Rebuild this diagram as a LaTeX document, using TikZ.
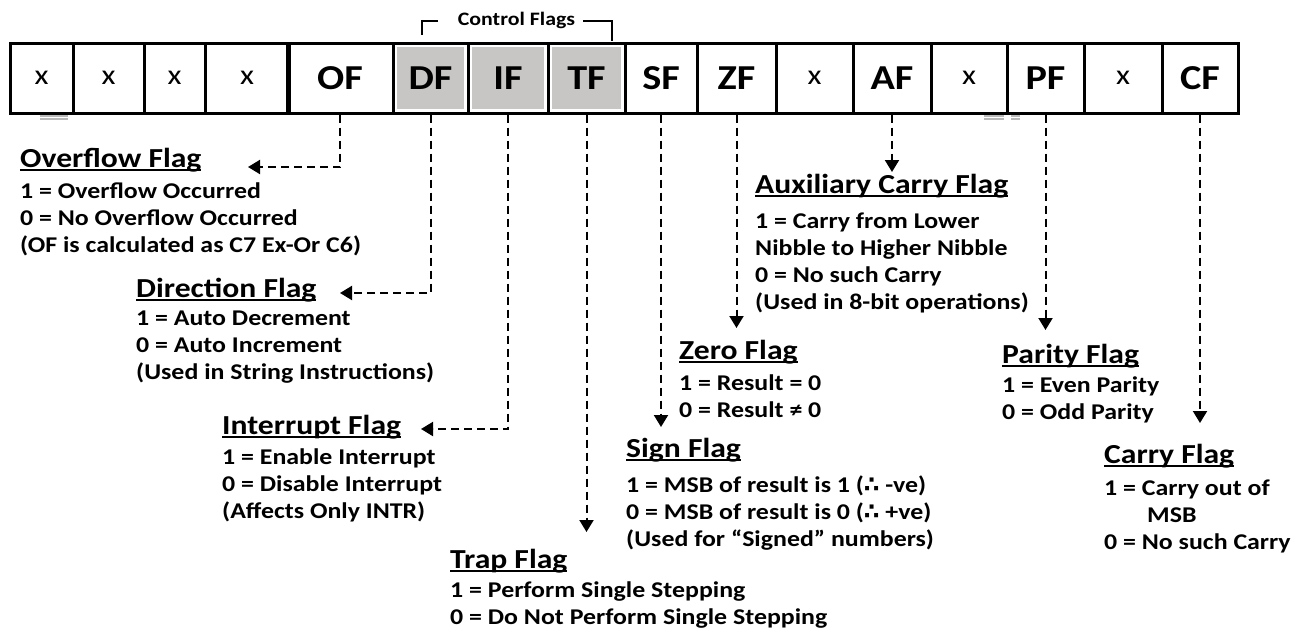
\documentclass[tikz,border=0pt]{standalone}
\usepackage{fontspec}
\setmainfont[FakeStretch=1.15]{Carlito}
\newfontfamily\symfont{DejaVu Sans}
\usetikzlibrary{arrows.meta}
\definecolor{cellgray}{HTML}{C8C6C4}
\newsavebox{\flagbox}
\newcommand{\flagul}[1]{\sbox{\flagbox}{#1}\rlap{\rule[-4pt]{\wd\flagbox}{2pt}}\usebox{\flagbox}}
\begin{document}
\begin{tikzpicture}[x=1pt, y=-1pt,
    cell/.style={draw, line width=3pt, minimum height=70, inner sep=0},
    bitx/.style={cell, font=\fontsize{28}{30}\selectfont},
    bitname/.style={cell, font=\bfseries\fontsize{35}{38}\selectfont},
    ctrlcell/.style={bitname, path picture={\fill[cellgray] ([shift={(4pt,-4pt)}]path picture bounding box.north west) rectangle ([shift={(-4pt,4pt)}]path picture bounding box.south east);}},
    head/.style={anchor=base west, inner sep=0, font=\bfseries\fontsize{27.5}{30}\selectfont},
    body/.style={anchor=north west, inner sep=0, align=left, font=\bfseries\fontsize{22.5}{27}\selectfont},
    flagarrow/.style={line width=2pt, dash pattern=on 8pt off 5pt, -{Triangle[length=12pt, width=14pt]}},
    bracket/.style={line width=2pt}]
    \useasboundingbox (0,0) rectangle (1312,632);
    % the register
    \node[bitx, minimum width=63] (b15) at (41.5,78) {x};
    \node[bitx, minimum width=71] (b14) at (108.5,78) {x};
    \node[bitx, minimum width=61] (b13) at (174.5,78) {x};
    \node[bitx, minimum width=84] (b12) at (247,78) {x};
    \node[bitname, minimum width=106] (of) at (340,78) {OF};
    \node[ctrlcell, minimum width=75] (df) at (430.5,78) {DF};
    \node[ctrlcell, minimum width=80] (if) at (508,78) {IF};
    \node[ctrlcell, minimum width=77] (tf) at (586.5,78) {TF};
    \node[bitname, minimum width=72] (sf) at (661,78) {SF};
    \node[bitname, minimum width=79] (zf) at (736.5,78) {ZF};
    \node[bitx, minimum width=77] (b5) at (814.5,78) {x};
    \node[bitname, minimum width=78] (af) at (892,78) {AF};
    \node[bitx, minimum width=76] (b3) at (969,78) {x};
    \node[bitname, minimum width=77] (pf) at (1045.5,78) {PF};
    \node[bitx, minimum width=78] (b1) at (1123,78) {x};
    \node[bitname, minimum width=76] (cf) at (1200,78) {CF};
    \draw[gray!55, line width=1.2pt] (40,116)--(68,116) (40,119)--(68,119);
    \draw[gray!55, line width=1.2pt] (984,116)--(1004,116) (984,119)--(1004,119) (1011,116)--(1020,116) (1011,119)--(1020,119);
    % control flags bracket
    \node[anchor=base, inner sep=0, font=\bfseries\fontsize{19}{21}\selectfont] (ctrl) at (516.5,25) {Control Flags};
    \draw[bracket] (438,21) -| (422,35);
    \draw[bracket] (583,21) -| (612,41);
    % flag descriptions
    \node[head] (ofhead) at (20,167) {\flagul{Overflow Flag}};
    \node[body] (ofbody) at (20,179) {\strut 1 = Overflow Occurred\\0 = No Overflow Occurred\\(OF is calculated as C7 Ex-Or C6)};
    \node[head] (dfhead) at (136,297) {\flagul{Direction Flag}};
    \node[body] (dfbody) at (136,306) {\strut 1 = Auto Decrement\\0 = Auto Increment\\(Used in String Instructions)};
    \node[head] (ifhead) at (222,434) {\flagul{Interrupt Flag}};
    \node[body] (ifbody) at (222,445) {\strut 1 = Enable Interrupt\\0 = Disable Interrupt\\(Affects Only INTR)};
    \node[head] (tfhead) at (450,568) {\flagul{Trap Flag}};
    \node[body] (tfbody) at (450,578) {\strut 1 = Perform Single Stepping\\0 = Do Not Perform Single Stepping};
    \node[head] (sfhead) at (626,457) {\flagul{Sign Flag}};
    \node[body] (sfbody) at (626,473) {\strut 1 = MSB of result is 1 ({\symfont ∴} -ve)\\0 = MSB of result is 0 ({\symfont ∴} +ve)\\(Used for “Signed” numbers)};
    \node[head] (zfhead) at (679,359) {\flagul{Zero Flag}};
    \node[body] (zfbody) at (679,371) {\strut 1 = Result = 0\\0 = Result ≠ 0};
    \node[head] (afhead) at (755,193) {\flagul{Auxiliary Carry Flag}};
    \node[body] (afbody) at (755,209) {\strut 1 = Carry from Lower\\Nibble to Higher Nibble\\0 = No such Carry\\(Used in 8-bit operations)};
    \node[head] (pfhead) at (1002,363) {\flagul{Parity Flag}};
    \node[body] (pfbody) at (1002,373) {\strut 1 = Even Parity\\0 = Odd Parity};
    \node[head] (cfhead) at (1104,463) {\flagul{Carry Flag}};
    \node[body] (cfbody) at (1104,476) {\strut 1 = Carry out of\\\hspace*{43pt}MSB\\0 = No such Carry};
    % arrow ends
    \coordinate (oftip) at (248,167);
    \coordinate (dftip) at (340,293);
    \coordinate (iftip) at (421,429);
    \coordinate (tftip) at (586.5,532);
    \coordinate (sftip) at (661,427);
    \coordinate (zftip) at (736.5,328);
    \coordinate (aftip) at (892,172);
    \coordinate (pftip) at (1045.5,330);
    \coordinate (cftip) at (1200,423);
    \draw[flagarrow] (of.south) |- (oftip);
    \draw[flagarrow] (df.south) |- (dftip);
    \draw[flagarrow] (if.south) |- (iftip);
    \draw[flagarrow] (tf.south) -- (tftip);
    \draw[flagarrow] (sf.south) -- (sftip);
    \draw[flagarrow] (zf.south) -- (zftip);
    \draw[flagarrow] (af.south) -- (aftip);
    \draw[flagarrow] (pf.south) -- (pftip);
    \draw[flagarrow] (cf.south) -- (cftip);
\end{tikzpicture}
\end{document}
